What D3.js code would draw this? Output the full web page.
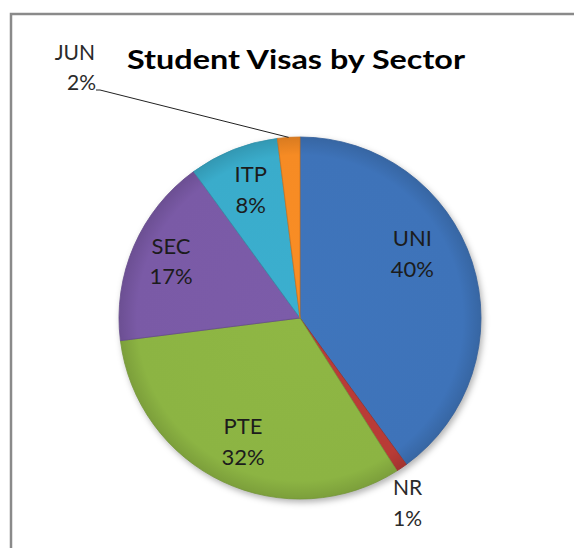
<!DOCTYPE html>
<html>
<head>
<meta charset="utf-8">
<script src="https://cdn.jsdelivr.net/npm/d3@7"></script>
<style>
  body { margin: 0; background: #fff; }
  text { font-family: Lato, "Open Sans", sans-serif; }
</style>
</head>
<body>
<div id="chart"></div>
<script>
// data
var sectors = ["UNI", "NR", "PTE", "SEC", "ITP", "JUN"];
var shares = [40, 1, 32, 17, 8, 2];
var sliceColours = ["#3e73b9", "#b83b36", "#8cb443", "#7a5aa6", "#3aaccb", "#f68b24"];

var pie_data = sectors.map(function(s, i) { return {sector: s, share: shares[i]}; });

var width = 574, height = 548;
var cx = 300, cy = 318, radius = 181;

var colour = d3.scaleOrdinal().domain(sectors).range(sliceColours);

var svg = d3.select("#chart")
  .append("svg")
    .attr("width", width)
    .attr("height", height);

// chart frame (cut off on right and bottom like the screenshot)
svg.append("rect")
    .attr("x", 11)
    .attr("y", 14)
    .attr("width", width + 10)
    .attr("height", height + 10)
    .attr("fill", "none")
    .attr("stroke", "#8a8a8a")
    .attr("stroke-width", 2.5);

var defs = svg.append("defs");

var shadow = defs.append("filter")
    .attr("id", "shadow")
    .attr("color-interpolation-filters", "sRGB")
    .attr("x", "-20%").attr("y", "-20%")
    .attr("width", "140%").attr("height", "140%");
shadow.append("feDropShadow")
    .attr("dx", 2)
    .attr("dy", 3)
    .attr("stdDeviation", 3)
    .attr("flood-color", "#000")
    .attr("flood-opacity", 0.3);

// a radial gradient per slice to fake the bevel look
// (coordinates are local to the translated pie group)
sectors.forEach(function(s) {
  var c = d3.color(colour(s));
  var g = defs.append("radialGradient")
      .attr("id", "grad-" + s)
      .attr("gradientUnits", "userSpaceOnUse")
      .attr("cx", 0).attr("cy", 0).attr("r", radius);
  g.append("stop").attr("offset", "0%").attr("stop-color", c.brighter(0.05));
  g.append("stop").attr("offset", "90%").attr("stop-color", c);
  g.append("stop").attr("offset", "100%").attr("stop-color", c.darker(0.35));
});

var pie = d3.pie()
    .sort(null)
    .value(function(d) { return d.share; });

var arc = d3.arc()
    .innerRadius(0)
    .outerRadius(radius);

var labelArc = d3.arc()
    .innerRadius(radius * 0.74)
    .outerRadius(radius * 0.74);

var arcs = pie(pie_data);

var pie_g = svg.append("g")
    .attr("transform", "translate(" + cx + "," + cy + ")");

pie_g.append("g")
    .attr("filter", "url(#shadow)")
  .selectAll("path")
  .data(arcs)
  .join("path")
    .attr("d", arc)
    .attr("fill", function(d) { return "url(#grad-" + d.data.sector + ")"; })
    .attr("stroke", function(d) { return d3.color(colour(d.data.sector)).darker(0.5); })
    .attr("stroke-width", 0.8);

// small nudges so labels sit where Excel put them
var nudge = {UNI: [-15, -19], SEC: [-6, 0], PTE: [0, 6]};

function twoLines(sel, name, pct) {
  sel.append("tspan").attr("x", 0).attr("dy", "-0.15em").text(name);
  sel.append("tspan").attr("x", 0).attr("dy", 31).text(pct + "%");
}

// inside labels
arcs.filter(function(d) { return d.data.share >= 5; }).forEach(function(d) {
  var p = labelArc.centroid(d);
  var n = nudge[d.data.sector] || [0, 0];
  var t = pie_g.append("text")
      .attr("transform", "translate(" + (p[0] + n[0]) + "," + (p[1] + n[1] - 8) + ")")
      .attr("text-anchor", "middle")
      .attr("font-size", 22)
      .attr("fill", "#1c1c1c");
  twoLines(t, d.data.sector, d.data.share);
});

// NR: outside, below the slice
var nr = arcs[1];
var nrPos = d3.arc().innerRadius(radius + 30).outerRadius(radius + 30).centroid(nr);
var nrText = pie_g.append("text")
    .attr("transform", "translate(" + (nrPos[0] - 11) + "," + (nrPos[1] + 6) + ")")
    .attr("text-anchor", "middle")
    .attr("font-size", 21)
    .attr("fill", "#2a2a2a");
twoLines(nrText, nr.data.sector, nr.data.share);

// JUN: far out to the upper left with a leader line
var jun = arcs[5];
var junEdge = d3.arc().innerRadius(radius).outerRadius(radius).centroid(jun);
var elbow = [100 - cx, 90 - cy];
pie_g.append("polyline")
    .attr("points", [junEdge, elbow, [elbow[0] - 4, elbow[1]]].map(function(p) { return p.join(","); }).join(" "))
    .attr("fill", "none")
    .attr("stroke", "#222")
    .attr("stroke-width", 1);
var junText = pie_g.append("text")
    .attr("transform", "translate(" + (elbow[0] - 4) + "," + (elbow[1]) + ")")
    .attr("text-anchor", "end")
    .attr("font-size", 21)
    .attr("fill", "#2a2a2a");
junText.append("tspan").attr("x", -1).attr("dy", -30).text(jun.data.sector);
junText.append("tspan").attr("x", 0).attr("dy", 30).text(jun.data.share + "%");

// title
svg.append("text")
    .attr("x", 296)
    .attr("y", 69)
    .attr("text-anchor", "middle")
    .attr("font-size", 26)
    .attr("font-weight", "bold")
    .attr("textLength", 338)
    .attr("lengthAdjust", "spacingAndGlyphs")
    .attr("fill", "#000")
    .text("Student Visas by Sector");
</script>
</body>
</html>
